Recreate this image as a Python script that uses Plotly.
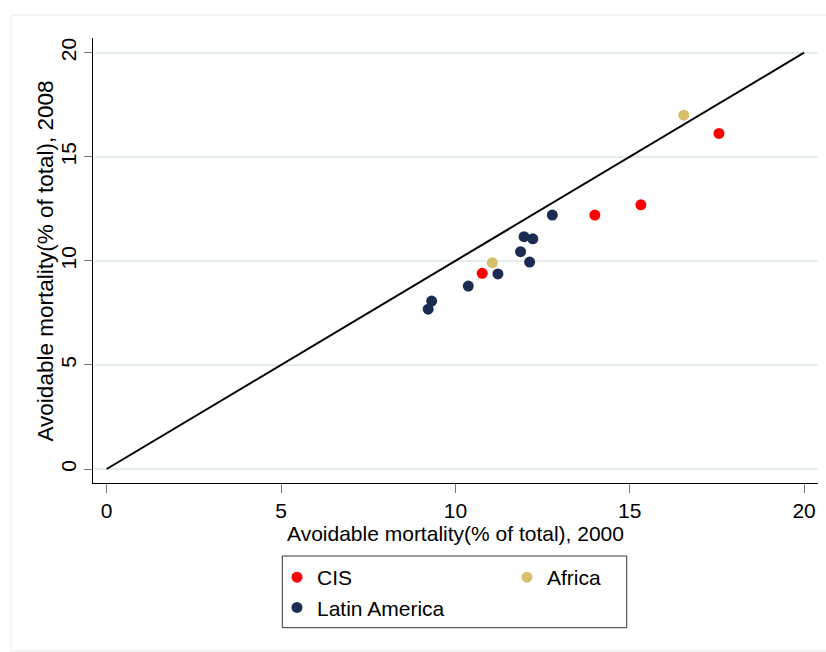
import plotly.graph_objects as go

# Data
cis_x = [10.77, 14.00, 15.32, 17.56]
cis_y = [9.40, 12.20, 12.69, 16.12]
africa_x = [11.06, 16.55]
africa_y = [9.91, 17.00]
latam_x = [11.22, 10.37, 9.32, 9.22, 11.87, 12.13, 11.97, 12.22, 12.78]
latam_y = [9.37, 8.79, 8.07, 7.68, 10.44, 9.94, 11.16, 11.06, 12.20]
diag_x = [0, 20]
diag_y = [0, 20]
tick_vals = [0, 5, 10, 15, 20]
x_title = "Avoidable mortality(% of total), 2000"
y_title = "Avoidable mortality(% of total), 2008"

FONT = "Liberation Sans, Arial, sans-serif"

fig = go.Figure()
fig.add_trace(go.Scatter(x=diag_x, y=diag_y, mode="lines",
                         line=dict(color="black", width=2), showlegend=False,
                         hoverinfo="skip"))
fig.add_trace(go.Scatter(x=cis_x, y=cis_y, mode="markers", name="CIS",
                         marker=dict(color="#ff0000", size=11), legend="legend"))
fig.add_trace(go.Scatter(x=latam_x, y=latam_y, mode="markers", name="Latin America",
                         marker=dict(color="#1c2b52", size=11), legend="legend"))
fig.add_trace(go.Scatter(x=africa_x, y=africa_y, mode="markers", name="Africa",
                         marker=dict(color="#d6bf68", size=11), legend="legend2"))

W, H = 826, 652
L, R, T, B = 93, 8, 38, 169
pw, ph = W - L - R, H - T - B

def px2x(px):
    return (px - L) / pw

def px2y(py):
    return (H - B - py) / ph

fig.update_layout(
    width=W, height=H,
    margin=dict(l=L, r=R, t=T, b=B, autoexpand=False),
    paper_bgcolor="white", plot_bgcolor="white",
    font=dict(family=FONT, color="black", size=21),
    xaxis=dict(range=[-0.393, 20.40], tickvals=tick_vals, ticks="outside",
               ticklen=9, tickcolor="#777777", tickwidth=1,
               showline=True, linecolor="black", linewidth=1,
               showgrid=False, zeroline=False,
               tickfont=dict(size=21, family=FONT),
               title=dict(text=x_title,
                          font=dict(size=21, family=FONT), standoff=3)),
    yaxis=dict(range=[-0.672, 20.706], tickvals=tick_vals, ticks="outside",
               ticklen=8, tickcolor="#777777", tickwidth=1, tickangle=-90,
               showline=True, linecolor="black", linewidth=1,
               showgrid=True, gridcolor="#e3ecef", gridwidth=1.5,
               zeroline=False,
               tickfont=dict(size=21, family=FONT)),
    annotations=[
        dict(text=y_title, xref="paper", yref="paper",
             x=px2x(45), y=px2y(261.5), xanchor="center", yanchor="middle",
             textangle=-90, showarrow=False,
             font=dict(size=22.5, family=FONT, color="black")),
    ],
    legend=dict(x=px2x(277), y=px2y(557), xanchor="left", yanchor="top",
                orientation="v", bgcolor="rgba(0,0,0,0)", borderwidth=0,
                font=dict(size=21, family=FONT), itemclick=False),
    legend2=dict(x=px2x(507), y=px2y(557), xanchor="left", yanchor="top",
                 orientation="v", bgcolor="rgba(0,0,0,0)", borderwidth=0,
                 font=dict(size=21, family=FONT), itemclick=False),
    shapes=[
        dict(type="rect", xref="paper", yref="paper", layer="below",
             x0=px2x(11), x1=px2x(900), y0=px2y(651), y1=px2y(15),
             line=dict(color="#e6eaec", width=1), fillcolor="rgba(0,0,0,0)"),
        dict(type="rect", xref="paper", yref="paper",
             x0=px2x(282.3), x1=px2x(626.7), y0=px2y(627.7), y1=px2y(556),
             line=dict(color="#333333", width=1), fillcolor="rgba(0,0,0,0)"),
    ],
)

fig.write_html("out.html", config={"displayModeBar": False},
               post_script="document.body.style.margin='0px';document.body.style.padding='0px';")
